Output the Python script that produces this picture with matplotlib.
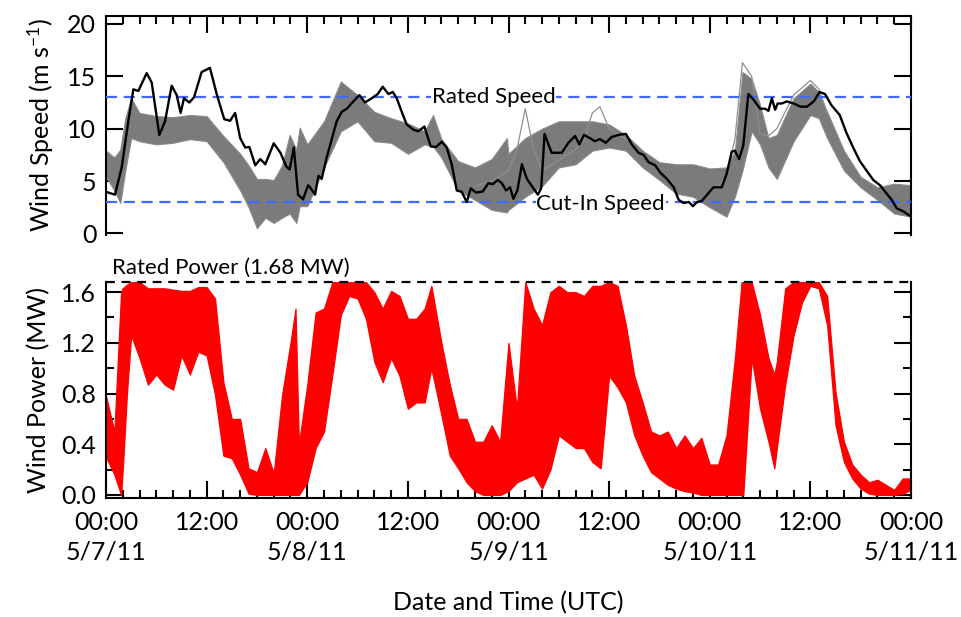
import matplotlib
matplotlib.use("Agg")
import matplotlib.pyplot as plt
from matplotlib.ticker import MultipleLocator, FixedLocator

plt.rcParams['font.family'] = ['Lato', 'DejaVu Sans']
plt.rcParams['mathtext.default'] = 'regular'

# ---------------- data (hours since 00:00 5/7/11) ----------------
# Observed wind speed (m/s)
obs_t = [0, 1.07, 1.87, 2.66, 3.26, 3.86, 4.85, 5.45, 6.36, 7.04, 7.83, 8.43, 8.9, 9.3, 9.94,
         10.5, 11.4, 12.4, 13.2, 14.1, 14.8, 15.4, 16.0, 16.6, 17.1, 17.8, 18.4, 19.0, 20.0,
         20.8, 21.5, 21.9, 22.4, 22.9, 23.5, 24.1, 24.33, 24.93, 25.33, 25.72, 26.32, 26.92,
         27.51, 28.11, 28.71, 29.5, 30.22, 30.89, 31.69, 32.4, 33.0, 33.68, 34.2, 34.67, 35.27,
         35.86, 36.66, 37.25, 37.97, 38.73, 39.36, 40.04, 40.63, 41.23, 41.83, 42.42, 43.02,
         43.5, 44.13, 44.93, 45.6, 46.12, 46.72, 47.2, 47.71, 48.19, 48.58, 49.06, 49.6, 50.2,
         50.9, 51.5, 51.9, 52.3, 52.9, 53.15, 54.35, 55.14, 55.94, 56.45, 57.0, 57.7, 58.3,
         58.9, 59.6, 60.3, 61.1, 62.0, 62.7, 63.5, 64.1, 64.7, 65.5, 66.1, 66.9, 67.7, 68.3,
         68.9, 69.5, 70.0, 70.5, 71.05, 71.64, 72.43, 73.43, 74.02, 74.62, 75.0, 75.5, 76.0,
         76.6, 77.2, 78.0, 78.6, 79.0, 79.4, 79.8, 80.1, 80.6, 81.2, 82.0, 82.8, 83.6, 84.4,
         85.1, 85.75, 86.5, 87.5, 88.3, 89.1, 89.9, 90.7, 91.5, 92.3, 92.9, 93.7, 94.3, 95.1, 96.0]
obs_ws = [3.97, 3.7, 6.3, 10.7, 13.75, 13.6, 15.3, 14.4, 9.4, 10.7, 14.1, 13.2, 11.5, 12.9, 12.5,
          13.0, 15.4, 15.8, 13.3, 10.9, 10.75, 11.5, 9.1, 8.2, 8.25, 6.5, 7.1, 6.6, 8.6,
          7.7, 6.4, 6.1, 8.2, 3.7, 3.25, 4.6, 4.4, 3.7, 5.5, 5.2, 7.25, 9.0,
          10.7, 11.6, 11.9, 12.6, 13.2, 12.5, 12.9, 13.3, 14.0, 13.3, 13.5, 12.9, 11.6,
          10.4, 9.9, 9.75, 10.2, 8.3, 8.25, 8.75, 8.2, 6.6, 4.1, 3.97, 3.0,
          4.3, 3.9, 4.0, 4.8, 4.7, 5.1, 4.8, 4.1, 4.4, 3.3, 4.1, 6.6, 5.2,
          4.4, 3.7, 4.3, 9.5, 8.2, 7.7, 7.7, 8.65, 9.3, 8.5, 9.4, 9.1, 8.8,
          9.0, 8.65, 9.2, 9.4, 9.5, 8.5, 7.7, 7.5, 6.8, 6.5, 5.8, 5.2, 4.4, 3.2,
          2.9, 3.0, 2.6, 3.0, 3.1, 3.65, 4.4, 4.4, 5.7, 7.8, 7.9, 7.1, 8.4,
          13.3, 12.8, 11.9, 11.9, 11.7, 12.9, 11.8, 12.4, 12.4, 12.6, 12.4, 12.1, 12.1, 12.6,
          13.5, 13.3, 12.25, 11.3, 9.6, 8.2, 6.9, 6.0, 5.1, 4.6, 4.0, 3.2, 2.4, 2.1, 1.6]

# Forecast ensemble wind speed envelope (m/s)
ens_t = [0, 1, 1.7, 2.3, 3, 4, 6, 8, 10, 12, 14, 16, 17, 18, 19, 20, 21, 21.9, 22.7, 23.1,
         24, 26, 28, 30, 32, 34, 36, 38, 39, 40, 42, 44, 46, 47.8, 48, 50, 52, 54, 56, 58,
         60, 62, 64, 66, 68, 70, 72, 74, 75, 75.9, 77, 78, 79, 80, 82, 84, 85, 86, 88, 90,
         92, 94, 96]
ens_hi = [7.9, 7.25, 8.0, 11.0, 12.9, 11.5, 11.2, 11.1, 11.3, 11.2, 9.3, 7.6, 6.5, 5.2, 5.2,
          5.1, 6.5, 9.4, 8.0, 10.1, 8.5, 10.7, 14.5, 13.2, 11.6, 11.0, 10.5, 9.75, 11.3, 9.0,
          6.9, 6.3, 7.1, 9.1, 7.6, 9.1, 10.0, 10.7, 10.7, 10.7, 10.4, 9.4, 7.9, 6.8, 6.6, 6.6,
          6.2, 6.3, 7.9, 15.4, 14.75, 12.25, 9.1, 9.4, 12.9, 14.3, 13.5, 11.6, 7.9, 5.4, 4.4,
          4.75, 4.6]
ens_lo = [5.4, 4.1, 2.9, 6.0, 9.1, 8.8, 8.5, 8.65, 9.0, 8.8, 6.8, 4.1, 2.5, 0.5, 1.5, 1.0,
          1.5, 1.9, 1.0, 2.6, 2.6, 6.3, 9.75, 10.7, 8.8, 8.65, 7.6, 8.5, 8.3, 7.25, 4.1, 3.2,
          2.25, 2.0, 2.25, 3.5, 4.5, 6.3, 6.6, 7.9, 8.2, 7.9, 6.3, 5.1, 3.8, 3.5, 2.5, 1.6,
          3.5, 6.0, 9.75, 8.5, 6.3, 5.2, 8.8, 11.3, 11.0, 9.1, 6.0, 4.4, 3.2, 1.9, 1.6]
# Outlying members (m/s)
out1_t = [44, 46, 48, 49, 50, 51, 52, 54, 56, 57, 58, 58.9, 60, 62]
out1_ws = [4.5, 5.0, 6.0, 8.0, 11.9, 8.0, 6.0, 7.0, 8.0, 9.0, 11.5, 12.1, 10.0, 9.0]
out2_t = [73, 74, 75, 75.9, 77, 78, 79, 80, 82, 84, 85, 86]
out2_ws = [4.5, 5.5, 9.0, 16.3, 15.0, 9.5, 9.3, 10.0, 13.2, 14.6, 13.8, 11.5]

# Ensemble wind power envelope (MW)
pw_t = [0, 1, 1.8, 2, 2.5, 3, 4, 5, 6, 7, 8, 9, 10, 11, 12, 13, 14, 15, 16, 17, 18, 19, 20,
        21, 22, 22.6, 23, 24, 25, 26, 27, 28, 29, 30, 31, 32, 33, 34, 35, 36, 37, 38, 38.8,
        40, 41, 42, 43, 44, 45, 46, 47, 48, 49, 50, 51, 52, 53, 54, 55, 56, 57, 58, 59, 60,
        61, 62, 63, 64, 65, 66, 67, 68, 69, 70, 71, 72, 73, 74, 75, 75.8, 76, 77, 78, 79,
        79.7, 80, 81, 82, 83, 84, 85, 86, 87, 88, 89, 90, 91, 92, 93, 94, 95, 96]
pw_hi = [0.78, 0.50, 1.60, 1.63, 1.66, 1.68, 1.68, 1.63, 1.63, 1.63, 1.62, 1.61, 1.61, 1.64,
         1.64, 1.55, 0.89, 0.60, 0.60, 0.21, 0.18, 0.37, 0.17, 0.79, 1.20, 1.47, 0.40, 0.87,
         1.44, 1.47, 1.68, 1.68, 1.68, 1.68, 1.68, 1.60, 1.47, 1.61, 1.57, 1.39, 1.39, 1.47,
         1.65, 1.20, 0.87, 0.60, 0.60, 0.42, 0.42, 0.55, 0.42, 1.20, 0.68, 1.68, 1.47, 1.34,
         1.60, 1.65, 1.60, 1.60, 1.57, 1.65, 1.65, 1.68, 1.65, 1.34, 0.94, 0.73, 0.50, 0.47,
         0.50, 0.37, 0.47, 0.37, 0.45, 0.24, 0.24, 0.47, 1.08, 1.68, 1.68, 1.68, 1.42, 1.08,
         0.95, 1.05, 1.63, 1.68, 1.68, 1.68, 1.68, 1.57, 0.81, 0.42, 0.24, 0.16, 0.10, 0.12,
         0.08, 0.04, 0.13, 0.13]
pw_lo = [0.30, 0.16, 0.00, 0.20, 0.80, 1.26, 1.08, 0.87, 0.95, 0.87, 0.83, 1.10, 0.95, 1.13,
         1.10, 0.79, 0.31, 0.29, 0.16, 0.01, 0.00, 0.00, 0.00, 0.00, 0.00, 0.00, 0.00, 0.10,
         0.37, 0.50, 0.95, 1.42, 1.57, 1.55, 1.39, 1.05, 0.89, 1.08, 0.94, 0.68, 0.73, 0.73,
         1.00, 0.63, 0.31, 0.21, 0.10, 0.03, 0.00, 0.00, 0.00, 0.03, 0.10, 0.13, 0.16, 0.05,
         0.20, 0.47, 0.42, 0.37, 0.37, 0.26, 0.21, 0.94, 0.85, 0.73, 0.47, 0.31, 0.18, 0.13,
         0.08, 0.05, 0.03, 0.02, 0.00, 0.00, 0.00, 0.00, 0.00, 0.00, 0.00, 1.08, 0.68, 0.42,
         0.21, 0.37, 0.87, 1.26, 1.52, 1.65, 1.63, 1.34, 0.55, 0.26, 0.13, 0.05, 0.01, 0.00,
         0.00, 0.00, 0.01, 0.04]

rated_speed = 13.0
cutin_speed = 3.0
rated_power = 1.68

tick_hours = [0, 12, 24, 36, 48, 60, 72, 84, 96]
tick_labels = ["00:00\n5/7/11", "12:00", "00:00\n5/8/11", "12:00", "00:00\n5/9/11",
               "12:00", "00:00\n5/10/11", "12:00", "00:00\n5/11/11"]

# ---------------- figure ----------------
fig = plt.figure(figsize=(9.62, 6.17), dpi=100)
ax1 = fig.add_axes([106/962, 1-235/617, 805/962, 219/617])
ax2 = fig.add_axes([106/962, 1-498/617, 805/962, 216/617])

FS = 18
AFS = 16
tick_kw = dict(direction='in', width=1.5, labelsize=FS, pad=7)

# --- top panel ---
ax1.fill_between(ens_t, ens_lo, ens_hi, color='#7b7b7b', lw=0.8, edgecolor='#8a8a8a', zorder=2)
ax1.plot(out1_t, out1_ws, color='#8f8f8f', lw=0.9, zorder=2)
ax1.plot(out2_t, out2_ws, color='#8f8f8f', lw=0.9, zorder=2)
ax1.axhline(rated_speed, color='#3d6bff', lw=1.6, ls=(0, (5, 3)), zorder=3)
ax1.axhline(cutin_speed, color='#3d6bff', lw=1.6, ls=(0, (5, 3)), zorder=3)
ax1.plot(obs_t, obs_ws, color='black', lw=1.7, zorder=5)
ax1.text(46.2, rated_speed, "Rated Speed", fontsize=AFS, ha='center', va='center', zorder=4,
         bbox=dict(facecolor='white', edgecolor='none', pad=0.5))
ax1.text(59.0, cutin_speed - 0.2, "Cut-In Speed", fontsize=AFS, ha='center', va='center', zorder=4,
         bbox=dict(facecolor='white', edgecolor='none', pad=0.5))
ax1.set_xlim(0, 96)
ax1.set_ylim(-0.15, 20.75)
ax1.set_yticks([0, 5, 10, 15, 20])
ax1.xaxis.set_major_locator(FixedLocator(tick_hours))
ax1.xaxis.set_minor_locator(MultipleLocator(2))
ax1.spines['bottom'].set_visible(False)
for s in ['top', 'left', 'right']:
    ax1.spines[s].set_linewidth(1.5)
ax1.tick_params(axis='both', which='both', **tick_kw)
ax1.tick_params(axis='x', which='both', top=True, bottom=False, labelbottom=False)
ax1.tick_params(axis='y', which='both', left=True, right=True)
ax1.tick_params(which='major', length=12)
ax1.tick_params(which='minor', length=6)
ax1.set_ylabel("Wind Speed (m s$^{-1}$)", fontsize=FS, labelpad=8)

# --- bottom panel ---
ax2.fill_between(pw_t, pw_lo, pw_hi, color='#ff0000', lw=0.9, edgecolor='#ff0000', zorder=2)
ax2.axhline(rated_power, color='black', lw=1.6, ls=(0, (4, 3)), zorder=4, clip_on=False)
ax2.text(14.9, 1.79, "Rated Power (1.68 MW)", fontsize=AFS, ha='center', va='center')
ax2.set_xlim(0, 96)
ax2.set_ylim(-0.024, 1.68)
ax2.yaxis.set_major_locator(MultipleLocator(0.4))
ax2.yaxis.set_minor_locator(MultipleLocator(0.2))
ax2.yaxis.set_major_formatter(matplotlib.ticker.FormatStrFormatter('%.1f'))
ax2.xaxis.set_major_locator(FixedLocator(tick_hours))
ax2.xaxis.set_minor_locator(MultipleLocator(2))
ax2.set_xticklabels(tick_labels)
ax2.spines['top'].set_visible(False)
for s in ['bottom', 'left', 'right']:
    ax2.spines[s].set_linewidth(1.5)
ax2.tick_params(axis='both', which='both', **tick_kw)
ax2.tick_params(axis='x', which='both', top=False, bottom=True, pad=9)
ax2.tick_params(axis='y', which='both', left=True, right=True)
ax2.tick_params(which='major', length=12)
ax2.tick_params(which='minor', length=6)
for lab in ax2.get_xticklabels():
    lab.set_linespacing(1.35)
ax2.set_ylabel("Wind Power (MW)", fontsize=FS, labelpad=8)
ax2.set_xlabel("Date and Time (UTC)", fontsize=FS, labelpad=20)

fig.savefig("out.png", dpi=100)
